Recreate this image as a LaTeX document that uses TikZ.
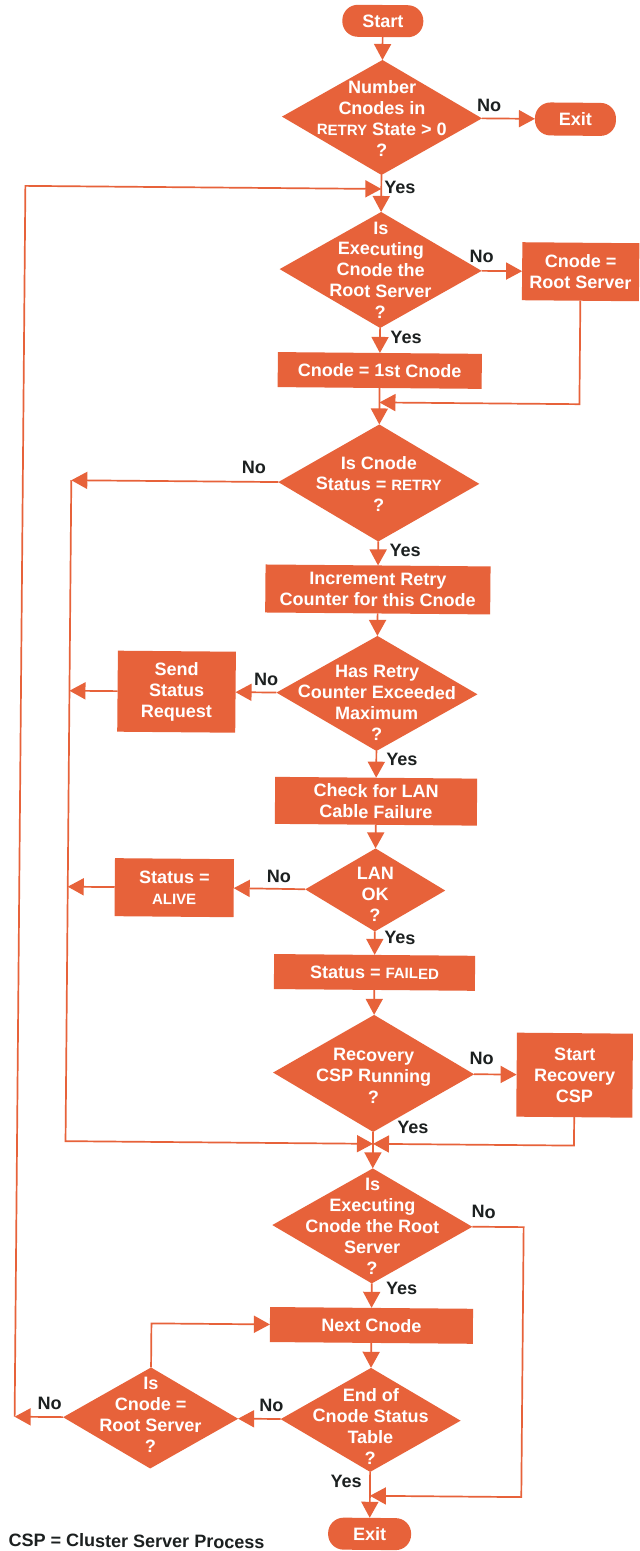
\documentclass[tikz,border=0pt]{standalone}
\usepackage{fontspec}
\setmainfont{Liberation Sans}
\usetikzlibrary{shapes.geometric,arrows.meta}
\definecolor{flow}{RGB}{231,98,58}
\definecolor{ink}{RGB}{28,32,32}
% smaller capitals for state names
\newcommand\capword[1]{{\fontsize{15}{18}\selectfont #1}}
% relation sign with generous spacing
\newcommand\relsign[1]{\hspace{5pt}#1\hspace{5pt}}

\begin{document}
\begin{tikzpicture}[x=1pt,y=-1pt,
  base/.style={font=\fontsize{18}{21}\selectfont\bfseries},
  procbox/.style={base, fill=flow, text=white, align=center, inner sep=0pt, outer sep=0pt},
  term/.style={procbox, rounded corners=15.5pt},
  decision/.style={diamond, fill=flow, inner sep=0pt, outer sep=0pt},
  dtext/.style={base, text=white, align=center, inner sep=0pt},
  tag/.style={base, text=ink, inner sep=0pt, anchor=base},
  flowline/.style={draw=flow, line width=1.7pt},
  arr/.style={flowline, -{Triangle[length=16pt,width=17pt]}},
]
\useasboundingbox (0,0) rectangle (640,1551);
\fill[white] (0,0) rectangle (640,1551);

\begin{scope}[rotate around={-0.5:(383,0)}, transform shape]

% ---------- nodes ----------
\node[term, minimum width=81pt, minimum height=32pt] (start) at (383,21) {Start};

\node[decision, minimum width=200pt, minimum height=115pt] (d1) at (383,117.5) {};
\node[dtext] (d1t) at (383,118.5) {Number\\Cnodes in\\\capword{RETRY} State\relsign{>}0\\?};
\node[term, minimum width=81pt, minimum height=33pt] (exit1) at (576.5,117.5) {Exit};

\node[decision, minimum width=202pt, minimum height=116pt] (d2) at (383,270) {};
\node[dtext] (d2t) at (383,270) {Is\\Executing\\Cnode the\\Root Server\\?};
\node[procbox, minimum width=117pt, minimum height=58pt] (rs) at (583,270) {Cnode\relsign{=}\\Root Server};

\node[procbox, minimum width=204pt, minimum height=35pt] (first) at (383,370.5) {Cnode\relsign{=}1st Cnode};

\node[decision, minimum width=201pt, minimum height=117pt] (d3) at (383,483) {};
\node[dtext] (d3t) at (383,484) {Is Cnode\\Status\relsign{=}\capword{RETRY}\\?};

\node[procbox, minimum width=225pt, minimum height=48pt] (incr) at (383,589.5) {Increment Retry\\Counter for this Cnode};

\node[decision, minimum width=201pt, minimum height=115pt] (d4) at (383,693.5) {};
\node[dtext] (d4t) at (383,703) {Has Retry\\Counter Exceeded\\Maximum\\?};
\node[procbox, minimum width=118pt, minimum height=81pt] (send) at (182.6,693.5) {Send\\Status\\Request};

\node[procbox, minimum width=202pt, minimum height=47pt] (check) at (383,801.3) {Check for LAN\\Cable Failure};

\node[decision, minimum width=140pt, minimum height=83pt] (d5) at (383,890) {};
\node[dtext] (d5t) at (383,894.5) {LAN\\OK\\?};
\node[procbox, minimum width=119pt, minimum height=58pt] (alive) at (182,889.5) {Status\relsign{=}\\\capword{ALIVE}};

\node[procbox, minimum width=201pt, minimum height=35pt] (failed) at (383,972.5) {Status\relsign{=}\capword{FAILED}};

\node[decision, minimum width=201pt, minimum height=117pt] (d6) at (383,1073.5) {};
\node[dtext] (d6t) at (383,1076) {Recovery\\CSP Running\\?};
\node[procbox, minimum width=116pt, minimum height=84pt] (recov) at (584,1073.5) {Start\\Recovery\\CSP};

\node[decision, minimum width=200pt, minimum height=115pt] (d7) at (383,1226) {};
\node[dtext] (d7t) at (383,1226.5) {Is\\Executing\\Cnode the Root\\Server\\?};

\node[procbox, minimum width=203pt, minimum height=35pt] (next) at (383,1325.5) {Next Cnode};

\node[decision, minimum width=180pt, minimum height=104pt] (d8) at (383,1420) {};
\node[dtext] (d8t) at (383,1426.5) {End of\\Cnode Status\\Table\\?};

\node[decision, minimum width=175pt, minimum height=101pt] (d9) at (163,1420) {};
\node[dtext] (d9t) at (163,1417) {Is\\Cnode\relsign{=}\\Root Server\\?};

\node[term, minimum width=83pt, minimum height=32pt] (exit2) at (383,1534) {Exit};

% ---------- junction points ----------
\coordinate (m0) at (383,189);
\coordinate (otop) at (27,189);
\coordinate (obot) at (27,1420);
\coordinate (m1) at (383,402.5);
\coordinate (c1) at (583,402.5);
\coordinate (i1) at (75.5,483);
\coordinate (i2) at (75.5,693.5);
\coordinate (i3) at (75.5,889.5);
\coordinate (i4) at (75.5,1144);
\coordinate (m2) at (383,1144);
\coordinate (c2) at (584,1144);
\coordinate (r0) at (534.4,1226);
\coordinate (r1) at (534.4,1496);
\coordinate (m3) at (383,1496);
\coordinate (c3) at (163,1325.5);

% ---------- connectors ----------
\draw[arr] (start.south) -- (d1.north);
\draw[arr] (d1.east) -- (exit1.west);
\draw[arr] (d1.south) -- (d2.north);
\draw[arr] (d2.east) -- (rs.west);
\draw[arr] (d2.south) -- (first.north);
\draw[arr] (first.south) -- (d3.north);
\draw[arr] (rs.south) -- (c1) -- (m1);
\draw[arr] (d3.west) -- (i1);
\draw[arr] (d3.south) -- (incr.north);
\draw[arr] (incr.south) -- (d4.north);
\draw[arr] (d4.west) -- (send.east);
\draw[arr] (send.west) -- (i2);
\draw[arr] (d4.south) -- (check.north);
\draw[arr] (check.south) -- (d5.north);
\draw[arr] (d5.west) -- (alive.east);
\draw[arr] (alive.west) -- (i3);
\draw[arr] (d5.south) -- (failed.north);
\draw[arr] (failed.south) -- (d6.north);
\draw[arr] (d6.east) -- (recov.west);
\draw[arr] (i1) -- (i4) -- (m2);
\draw[arr] (recov.south) -- (c2) -- (m2);
\draw[arr] (d6.south) -- (d7.north);
\draw[arr] (d7.east) -- (r0) -- (r1) -- (m3);
\draw[arr] (d7.south) -- (next.north);
\draw[arr] (next.south) -- (d8.north);
\draw[arr] (d8.west) -- (d9.east);
\draw[arr] (d9.north) -- (c3) -- (next.west);
\draw[arr] (d9.west) -- (obot);
\draw[arr] (obot) -- (otop) -- (m0);
\draw[arr] (d8.south) -- (exit2.north);

% ---------- branch labels ----------
\node[tag] (l1) at (490,110.5) {No};
\node[tag] (l2) at (401.6,193.5) {Yes};
\node[tag] (l3) at (484,261.5) {No};
\node[tag] (l4) at (409,343.5) {Yes};
\node[tag] (l5) at (258,474.5) {No};
\node[tag] (l6) at (410,556.5) {Yes};
\node[tag] (l7) at (272,686.5) {No};
\node[tag] (l8) at (408.6,765.5) {Yes};
\node[tag] (l9) at (286.5,883.8) {No};
\node[tag] (l10) at (408.2,943.8) {Yes};
\node[tag] (l11) at (490.8,1063.8) {No};
\node[tag] (l12) at (422.8,1133.2) {Yes};
\node[tag] (l13) at (494.3,1217.2) {No};
\node[tag] (l14) at (413,1294) {Yes};
\node[tag] (l15) at (283.7,1412.5) {No};
\node[tag] (l16) at (62,1412.5) {No};
\node[tag] (l17) at (359,1488.2) {Yes};

% ---------- legend ----------
\node[tag, anchor=base west] (legend) at (22,1549.5) {CSP\relsign{=}Cluster Server Process};

\end{scope}
\end{tikzpicture}
\end{document}
